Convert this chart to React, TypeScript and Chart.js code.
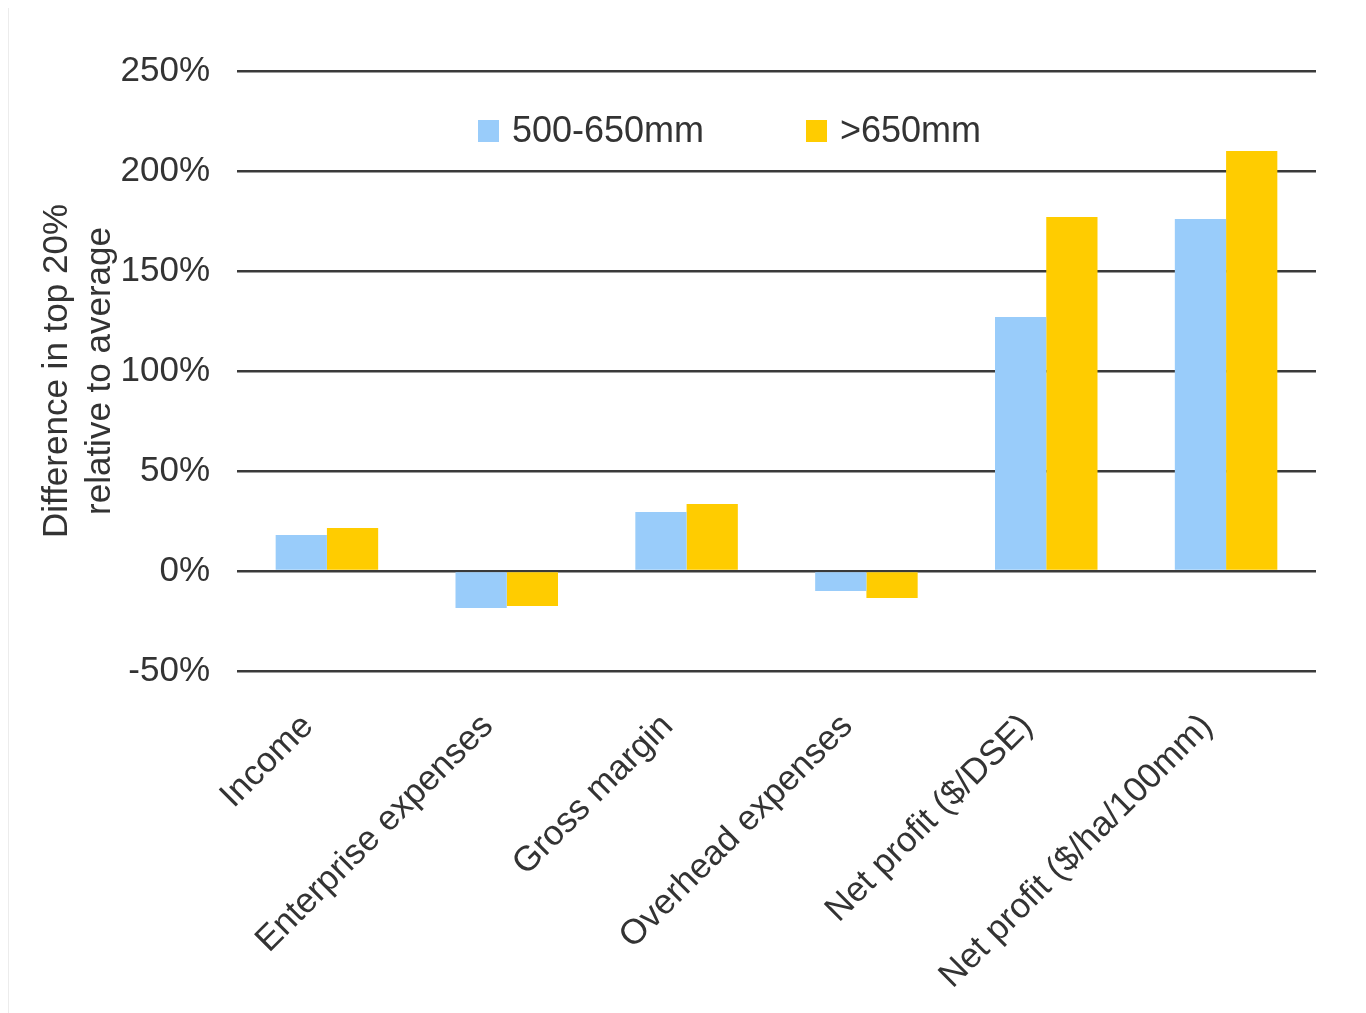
import React, { useEffect, useRef } from "react";
import { Chart, registerables } from "chart.js";

Chart.register(...registerables);

const categories = [
  "Income",
  "Enterprise expenses",
  "Gross margin",
  "Overhead expenses",
  "Net profit ($/DSE)",
  "Net profit ($/ha/100mm)",
];
const seriesNames = ["500-650mm", ">650mm"];
const series500to650 = [18, -18.5, 29.5, -10, 127, 176];
const seriesOver650 = [21.5, -17.5, 33.5, -13.5, 177, 210];
const yTicks = [-50, 0, 50, 100, 150, 200, 250];
const yTitle = ["Difference in top 20%", "relative to average"];

const BLUE = "#99CCFA";
const YELLOW = "#FFCC00";
const TEXT = "#333333";
const FONT = "'Liberation Sans', Arial, sans-serif";

const legendPlugin = {
  id: "insideLegend",
  afterDraw(chart: any) {
    const { ctx, chartArea } = chart;
    const items = [
      { label: seriesNames[0], color: BLUE, dx: 241 },
      { label: seriesNames[1], color: YELLOW, dx: 569 },
    ];
    const cy = chartArea.top + 60;
    ctx.save();
    ctx.font = `36px ${FONT}`;
    ctx.textBaseline = "middle";
    ctx.textAlign = "left";
    items.forEach((it) => {
      const x = chartArea.left + it.dx;
      ctx.fillStyle = it.color;
      ctx.fillRect(x, cy - 11, 21, 22);
      ctx.fillStyle = TEXT;
      ctx.fillText(it.label, x + 34, cy + 1);
    });
    ctx.restore();
  },
};

export default function App() {
  const ref = useRef<HTMLCanvasElement | null>(null);
  useEffect(() => {
    if (!ref.current) return;
    const chart = new Chart(ref.current, {
      type: "bar",
      data: {
        labels: categories,
        datasets: [
          {
            label: seriesNames[0],
            data: series500to650,
            backgroundColor: BLUE,
            categoryPercentage: 0.57,
            barPercentage: 1,
          },
          {
            label: seriesNames[1],
            data: seriesOver650,
            backgroundColor: YELLOW,
            categoryPercentage: 0.57,
            barPercentage: 1,
          },
        ],
      },
      options: {
        animation: false,
        responsive: false,
        maintainAspectRatio: false,
        layout: { padding: { top: 64, right: 43, left: 0, bottom: 0 } },
        plugins: {
          legend: { display: false },
          tooltip: { enabled: false },
        },
        scales: {
          x: {
            grid: { display: false },
            border: { display: false },
            ticks: {
              color: TEXT,
              font: { size: 35, family: FONT },
              minRotation: 45,
              maxRotation: 45,
              autoSkip: false,
              padding: 27,
              labelOffset: -19,
            },
            afterFit: (scale: any) => {
              scale.height = 342;
            },
          },
          y: {
            min: yTicks[0],
            max: yTicks[yTicks.length - 1],
            afterBuildTicks: (scale: any) => {
              scale.ticks = yTicks.map((v) => ({ value: v }));
            },
            grid: {
              color: "#3a3a3a",
              lineWidth: 2.5,
              drawTicks: false,
            },
            border: { display: false },
            ticks: {
              color: TEXT,
              font: { size: 35, family: FONT },
              padding: 27,
              callback: (v: any) => `${v}%`,
            },
            title: {
              display: true,
              text: yTitle,
              color: TEXT,
              font: { size: 35, family: FONT, lineHeight: 1.23 },
              padding: { top: 27, bottom: 0 },
            },
            afterFit: (scale: any) => {
              scale.width = 228;
            },
          },
        },
      },
      plugins: [legendPlugin],
    });
    return () => chart.destroy();
  }, []);

  return (
    <div
      style={{
        position: "relative",
        width: 1353,
        height: 1008,
        margin: "-3px 0 0 -1px",
        borderTop: "2px solid #e6e6e6",
        borderLeft: "2px solid #ececec",
        borderRight: "1px solid #f0f0f0",
        boxSizing: "border-box",
        background: "#fff",
      }}
    >
      <canvas
        ref={ref}
        width={1350}
        height={1006}
        style={{ position: "absolute", left: 0, top: 0, width: 1350, height: 1006 }}
      />
    </div>
  );
}
